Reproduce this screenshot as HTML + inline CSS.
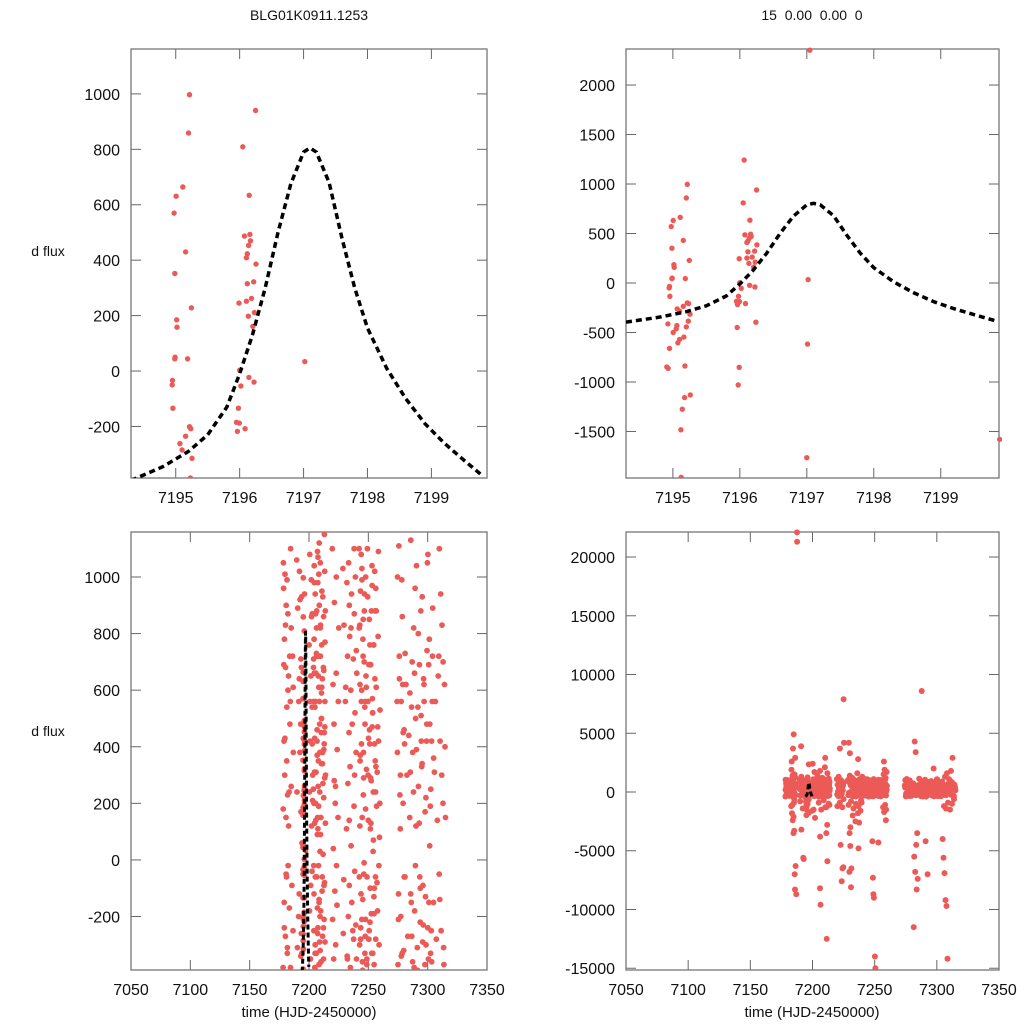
<!DOCTYPE html>
<html><head><meta charset="utf-8"><style>
html,body{margin:0;padding:0;background:#fff}
svg{display:block}
text{font-family:"Liberation Sans",sans-serif;fill:#111}
</style></head><body>
<svg id="fig" width="1024" height="1024" viewBox="0 0 1024 1024" xmlns="http://www.w3.org/2000/svg">
<text x="309" y="20" font-size="14" text-anchor="middle">BLG01K0911.1253</text>
<text x="812" y="20" font-size="14" text-anchor="middle" xml:space="preserve">15  0.00  0.00  0</text>
<text x="48" y="256" font-size="14" text-anchor="middle">d flux</text>
<text x="48" y="736" font-size="14" text-anchor="middle">d flux</text>
<text x="309" y="1017" font-size="15" text-anchor="middle">time (HJD-2450000)</text>
<text x="812" y="1017" font-size="15" text-anchor="middle">time (HJD-2450000)</text>
</svg>
<script>
// ---- data: model curve ----
const curveT = [7194.3,7194.8,7195.2,7195.5,7195.8,7196.0,7196.2,7196.4,7196.6,7196.8,7197.0,7197.1,7197.2,7197.4,7197.6,7197.8,7198.0,7198.3,7198.6,7198.9,7199.2,7199.5,7199.8];
const curveF = [-395,-345,-290,-230,-130,-10,130,300,500,675,790,805,790,680,480,300,155,10,-100,-190,-260,-320,-378];
// ---- data: observations near peak ----
const tPeak = [7195.215,7195.2,7194.975,7195.005,7195.11,7195.155,7194.985,7195.015,7195.02,7195.245,7194.99,7194.985,7195.185,7194.95,7194.945,7194.955,7194.925,7195.065,7195.1,7195.155,7195.215,7195.235,7195.255,7195.23,7195.2,7195.005,7195.05,7195.06,7195.165,7195.075,7195.1,7194.95,7194.91,7194.93,7195.18,7195.26,7195.175,7195.14,7195.12,7195.125,
7196.065,7196.25,7196.05,7196.15,7196.075,7196.16,7196.14,7196.17,7196.105,7196.12,7196.255,7196.12,7196.22,7195.99,7196.105,7196.185,7196.135,7196.23,7196.205,7196.0,7196.145,7196.225,7196.02,7195.98,7195.95,7195.995,7195.965,7196.085,7195.96,7196.24,7195.99,7195.975,
7197.045,7197.02,7197.01,7197.0,7199.88];
const fPeak = [997,859,570,631,664,430,352,185,158,228,50,44,44,-34,-50,-134,-413,-262,-285,-235,-201,-208,-315,-386,-443,-500,-463,-430,-547,-604,-570,-661,-849,-862,-839,-1131,-1158,-1275,-1483,-1963,
1242,940,809,634,487,493,453,470,409,423,386,315,322,245,252,262,198,211,161,3,-23,-40,-54,-134,-185,-188,-218,-208,-450,-396,-852,-1030,
2352,34,-617,-1765,-1580];
// ---- data: full season clusters ----
const tA=[7178.2,7178.4,7178.6,7178.9,7179.1,7179.3,7179.5,7179.8,7180.1,7180.3,7180.6,7180.8,7181.0,7181.3,7181.5,7181.7,7182.0,7182.2,7182.4,7182.7,7182.9,7183.1,7183.3,7183.5,7183.7,7183.9,7184.1,7184.3,7184.5,7184.7,7184.9,7185.1,7185.3,7185.5,7185.7,7185.9,7186.1,7186.4,7186.7,7187.0,7183.2,7183.8,7184.2,7184.8,7185.0,7185.4,7186.0,7186.5,7187.5,7187.6];
const fA=[-380,1050,960,420,-150,780,300,1010,-270,680,150,900,-60,540,990,-330,230,870,-20,650,-1200,1900,2600,-1800,720,1400,-2400,3700,1100,-3500,4900,-900,-3300,1500,-7000,-8300,2900,-6300,610,-8700,240,-1100,560,-2100,820,-600,1250,-250,22100,21300];
const tB=[7189.6,7189.9,7190.2,7190.5,7190.8,7191.1,7191.4,7191.7,7192.0,7192.3,7192.6,7192.9,7193.2,7193.5,7193.8,7194.1,7190.0,7191.0,7192.1,7193.0,7193.3,7200.1,7200.4,7200.7,7201.0,7201.3,7201.6,7201.9,7202.2,7202.5,7202.8,7203.1,7200.2,7200.9,7201.5,7202.0,7202.6,7203.0,7194.0,7193.6];
const fB=[1060,240,-310,890,3900,-3200,560,-120,1020,380,-5600,-5700,710,-260,930,60,-800,1300,-1400,480,170,760,-180,1080,420,-350,650,990,120,-40,870,300,2400,-1500,1700,-2200,540,210,-330,680];
const tC=[7203.6,7203.9,7204.2,7204.5,7204.8,7205.1,7205.4,7205.7,7206.0,7206.3,7206.6,7206.9,7207.2,7207.5,7207.8,7208.1,7208.4,7208.7,7209.0,7209.3,7209.6,7209.9,7210.2,7210.5,7210.8,7211.1,7211.4,7211.7,7212.0,7212.3,7212.6,7212.9,7213.2,7213.5,7213.8,
7203.7,7204.0,7204.3,7204.6,7204.9,7205.2,7205.5,7205.8,7206.1,7206.4,7206.7,7207.0,7207.3,7207.6,7207.9,7208.2,7208.5,7208.8,7209.1,7209.4,7209.7,7210.0,7210.3,7210.6,7210.9,7211.2,7211.5,7211.8,7212.1,7212.4,7212.7,7213.0,7213.3,7213.6,7213.9,
7204.0,7205.0,7206.0,7207.0,7208.0,7209.0,7210.0,7211.0,7212.0,7213.0,7204.5,7205.5,7206.5,7207.5,7208.5,7209.5,7210.5,7211.5,7212.5,7213.5];
const fC=[250,710,-120,980,430,-330,560,140,-8200,820,-60,370,1090,-240,650,190,-370,900,480,30,720,-180,2900,340,610,-3500,-12500,270,-5900,860,-90,450,1020,-290,130,
560,-20,780,310,-380,940,200,660,-3800,-9600,420,90,-260,1070,350,720,-140,560,240,-320,830,150,-1300,500,950,-60,380,-2800,680,220,-210,1150,470,-1100,300,
1400,-900,1800,-1500,1200,-700,2100,-1300,1600,-1000,660,-390,880,110,-150,1050,590,-270,390,770];
const tD=[7219.6,7219.9,7220.2,7220.5,7220.8,7221.1,7221.4,7221.7,7222.0,7222.3,7222.6,7222.9,7223.2,7223.5,7223.8,7224.1,7224.4,7224.7,7225.0,7225.3,7220.0,7221.0,7222.0,7223.0,7224.0,7222.2,7222.5,7224.8,7225.1,7224.9];
const fD=[1100,-210,620,40,-350,480,910,-110,3700,260,-4500,660,-20,-7600,390,-6500,150,560,7900,4200,-1200,1300,-900,1000,-1300,200,-300,-6400,820,-600];
const tE=[7228.6,7228.9,7229.2,7229.5,7229.8,7230.1,7230.4,7230.7,7231.0,7231.3,7231.6,7231.9,7232.2,7232.5,7232.8,7233.1,7233.4,7233.7,7234.0,7234.3,7234.6,7234.9,7235.2,7235.5,7235.8,7236.1,7236.4,7236.7,7237.0,7237.3,7237.6,7237.9,7238.2,7238.5,7238.8,7239.1,7239.4,7239.7,7240.0,7240.3,
7229.0,7230.0,7231.0,7232.0,7233.0,7234.0,7235.0,7236.0,7237.0,7238.0,7239.0,7240.0,7229.7,7230.5,7232.3,7234.5,7236.5,7237.5,7238.6,7239.5];
const fE=[1030,-260,4200,830,-3500,3300,-4600,560,-8100,-6500,110,980,-340,720,270,-200,1050,450,-90,790,330,-380,600,50,940,-150,480,2800,-4800,710,-280,190,870,-40,520,1000,-230,380,-350,660,
-1100,1400,-800,1200,-1400,900,-1000,1600,-1200,1100,-700,1300,-6800,-3000,-2000,-2500,-1800,-2600,-1600,-900];
const tF=[7242.2,7242.6,7243.0,7243.4,7243.8,7244.2,7244.6,7245.0,7245.4,7245.8,7246.2,7246.6,7247.0,7247.4,7247.8,7248.2,7248.6,7249.0,7249.4,7249.8,7250.2,7250.6,7251.0,7251.4,7251.8,7252.2,7252.6,7253.0,7253.4,7253.8,7254.2,7254.6,7255.0,7255.4,7255.8,7256.2,7256.6,7257.0,7257.4,7257.8,7258.2,7258.6,7259.0,7259.4,7259.8,
7242.4,7242.8,7243.2,7243.6,7244.0,7244.4,7244.8,7245.2,7245.6,7246.0,7246.4,7246.8,7247.2,7247.6,7248.0,7248.4,7248.8,7249.2,7249.6,7250.0,7250.4,7250.8,7251.2,7251.6,7252.0,7252.4,7252.8,7253.2,7253.6,7254.0,7254.4,7254.8,7255.2,7255.6,7256.0,7256.4,7256.8,7257.2,7257.6,7258.0,7258.4,7258.8,7259.2,7259.6];
const fF=[1100,-300,620,950,-120,410,1030,-360,780,230,-50,880,540,-270,1000,-4200,-7300,-8700,-9000,300,-14000,-15000,460,-220,690,130,880,-4300,570,-330,240,760,-100,1020,350,-280,610,190,2600,-180,790,420,-2400,80,530,
-60,830,370,-240,1080,600,150,-390,720,290,-10,940,480,-210,650,320,-350,1100,560,140,-280,850,410,-100,690,280,-330,970,520,30,760,-190,410,880,-60,330,-1300,1500,-1700,1900,-1100,1200,-1500,1700];
const tG=[7274.2,7275.0,7275.8,7276.6,7277.4,7278.2,7279.0,7279.8,7280.6,7281.4,7282.2,7283.0,7283.8,7284.6,7285.4,7286.2,7287.0,7287.8,7288.6,7289.4,7290.2,7291.0,7291.8,7292.6,7293.4,7294.2,7295.0,7295.8,7296.6,7297.4,7298.2,7299.0,7299.8,7300.6,7301.4,7302.2,7303.0,7303.8,7304.6,7305.4,7306.2,7307.0,7307.8,7308.6,7309.4,7310.2,7311.0,7311.8,7312.6,7313.4,7314.2,7315.0,
7274.6,7275.4,7276.2,7277.0,7277.8,7278.6,7279.4,7280.2,7281.0,7281.8,7282.6,7283.4,7284.2,7285.0,7285.8,7286.6,7287.4,7288.2,7289.0,7289.8,7290.6,7291.4,7292.2,7293.0,7293.8,7294.6,7295.4,7296.2,7297.0,7297.8,7298.6,7299.4,7300.2,7301.0,7301.8,7302.6,7303.4,7304.2,7305.0,7305.8,7306.6,7307.4,7308.2,7309.0,7309.8,7310.6,7311.4,7312.2,7313.0,7313.8,7314.6];
const fG=[560,-370,1110,230,-200,990,620,-320,410,-11500,4300,3400,-8300,-7400,310,-150,700,8600,-380,960,120,-4200,540,-7000,-60,880,330,-290,640,2000,-130,420,1050,-350,780,190,-250,560,-4000,-5600,-6900,-9200,-9700,-14200,720,-140,940,300,2900,-310,620,150,
1000,-120,640,300,-340,860,450,-60,730,-5500,-6800,-4500,-3500,590,1130,-270,380,820,-180,500,1040,-390,260,690,-100,420,930,-230,560,170,-300,740,1080,-150,480,250,-360,890,360,-1200,1300,-1400,1600,-900,1100,-1500,1800,-1000,700,-600,400];
// ---- extra observations (denser core) ----
const tH=[7203.8,7204.1,7204.4,7204.7,7205.0,7205.3,7205.6,7205.9,7206.2,7206.5,7206.8,7207.1,7207.4,7207.7,7208.0,7208.3,7208.6,7208.9,7209.2,7209.5,7209.8,7210.1,7210.4,7210.7,7211.0,7211.3,7211.6,7211.9,7212.2,7212.5,7212.8,7213.1,7213.4,7213.7,7204.25,7205.25,7206.25,7207.25,7208.25,7209.25,7210.25,7211.25,7212.25,7213.25];
const fH=[680,-250,1040,130,540,-60,870,310,-330,720,460,-170,980,260,-20,610,1120,-290,380,820,90,-360,500,760,-110,340,930,20,-240,670,410,-80,560,880,200,-300,730,150,1010,-200,450,640,-350,290];
const tI=[7242.3,7242.9,7243.5,7244.1,7244.7,7245.3,7245.9,7246.5,7247.1,7247.7,7248.3,7248.9,7249.5,7250.1,7250.7,7251.3,7251.9,7252.5,7253.1,7253.7,7254.3,7254.9,7255.5,7256.1,7256.7,7257.3,7257.9,7258.5,7259.1,7259.7,7243.1,7244.5,7245.7,7247.3,7248.7,7250.5,7251.7,7253.3,7254.7,7256.3,7257.5,7258.9];
const fI=[820,120,-280,560,990,-140,380,700,-330,180,610,-60,930,430,-250,760,290,-190,1040,520,70,-370,640,240,880,-80,470,1090,-300,200,350,-210,850,560,-370,690,110,470,-130,960,310,-20];
const tJ=[7274.5,7275.3,7276.1,7276.9,7277.7,7278.5,7279.3,7280.1,7280.9,7281.7,7282.5,7283.3,7284.1,7284.9,7285.7,7286.5,7287.3,7288.1,7288.9,7289.7,7290.5,7291.3,7292.1,7292.9,7293.7,7294.5,7295.3,7296.1,7296.9,7297.7,7298.5,7299.3,7300.1,7300.9,7301.7,7302.5,7303.3,7304.1,7304.9,7305.7,7306.5,7307.3,7308.1,7308.9,7309.7,7310.5,7311.3,7312.1,7312.9,7313.7];
const fJ=[380,-210,720,110,560,-330,200,460,-60,620,300,-270,440,150,-120,540,-360,240,660,-20,390,-310,800,130,-220,510,340,-90,620,-370,220,480,-240,690,50,-330,420,720,-150,310,560,-280,140,650,-50,420,-250,830,200,-370];
const tK=[7178.3,7178.8,7179.2,7179.7,7180.2,7180.7,7181.2,7181.8,7182.3,7182.8,7183.4,7183.9,7184.4,7185.0,7185.6,7186.2,7186.8,7191.2,7191.8,7192.4,7193.1,7200.3,7200.8,7201.4,7202.1,7202.7,7229.3,7230.9,7232.4,7233.9,7235.4,7236.9,7238.4,7239.9,7221.2,7223.6];
const fK=[180,690,-240,430,830,-50,350,-310,600,120,-170,480,-380,260,-90,720,380,-200,640,920,-340,240,560,-90,860,410,-70,610,-350,140,820,-250,300,740,280,-160];
// ---- tick labels ----
const ticksXTop=[7195,7196,7197,7198,7199];
const ticksXBottom=[7050,7100,7150,7200,7250,7300,7350];
const ticksYTL=[-200,0,200,400,600,800,1000];
const ticksYTR=[-1500,-1000,-500,0,500,1000,1500,2000];
const ticksYBL=[-200,0,200,400,600,800,1000];
const ticksYBR=[-15000,-10000,-5000,0,5000,10000,15000,20000];

const NS="http://www.w3.org/2000/svg";
const svg=document.getElementById('fig');
function mk(tag,attrs,parent){const e=document.createElementNS(NS,tag);for(const k in attrs)e.setAttribute(k,attrs[k]);(parent||svg).appendChild(e);return e;}

function cat(){const t=[],f=[];for(let i=0;i<arguments.length;i+=2){const a=arguments[i],b=arguments[i+1];const n=Math.min(a.length,b.length);for(let j=0;j<n;j++){t.push(a[j]);f.push(b[j]);}}return [t,f];}
const [allT,allF]=cat(tPeak,fPeak,tA,fA,tB,fB,tC,fC,tD,fD,tE,fE,tF,fF,tG,fG,tH,fH,tI,fI,tJ,fJ,tK,fK);

const panels=[
 {id:'top-left',x0:131,x1:487,y0:49,y1:478,xmin:7194.3,xmax:7199.87,ymin:-386,ymax:1162,xt:ticksXTop,yt:ticksYTL,r:2.7},
 {id:'top-right',x0:626,x1:999,y0:49,y1:478,xmin:7194.3,xmax:7199.87,ymin:-1970,ymax:2364,xt:ticksXTop,yt:ticksYTR,r:2.7},
 {id:'bottom-left',x0:131,x1:487,y0:532,y1:970,xmin:7050,xmax:7350,ymin:-389,ymax:1159,xt:ticksXBottom,yt:ticksYBL,r:2.9},
 {id:'bottom-right',x0:626,x1:999,y0:532,y1:970,xmin:7050,xmax:7350,ymin:-15150,ymax:22130,xt:ticksXBottom,yt:ticksYBR,r:3}
];

panels.forEach((p,pi)=>{
  const sx=v=>p.x0+(v-p.xmin)/(p.xmax-p.xmin)*(p.x1-p.x0);
  const sy=v=>p.y1-(v-p.ymin)/(p.ymax-p.ymin)*(p.y1-p.y0);
  const g=mk('g',{});
  
  
  const cp=mk('clipPath',{id:'clip'+pi},g);
  mk('rect',{x:p.x0,y:p.y0-3,width:p.x1-p.x0+3,height:p.y1-p.y0+3},cp);
  p.xt.forEach(v=>{
    const x=sx(v);
    const t1=mk('line',{x1:x,x2:x,y1:p.y1,y2:p.y1-10,stroke:'#666','stroke-width':1},g);
    
    
    mk('line',{x1:x,x2:x,y1:p.y0,y2:p.y0+10,stroke:'#666','stroke-width':1},g);
    const tx=mk('text',{x:x,y:p.y1+25,'font-size':16,'text-anchor':'middle'},g);
    tx.textContent=v;
    
    
  });
  p.yt.forEach(v=>{
    const y=sy(v);
    const t1=mk('line',{x1:p.x0,x2:p.x0+10,y1:y,y2:y,stroke:'#666','stroke-width':1},g);
    
    
    mk('line',{x1:p.x1,x2:p.x1-10,y1:y,y2:y,stroke:'#666','stroke-width':1},g);
    const tx=mk('text',{x:p.x0-11,y:y+6,'font-size':16,'text-anchor':'end'},g);
    tx.textContent=v;
    
    
  });
  const box=mk('rect',{x:p.x0,y:p.y0,width:p.x1-p.x0,height:p.y1-p.y0,fill:'none',stroke:'#777','stroke-width':1.3},g);
  
  
  const pg=mk('g',{'clip-path':'url(#clip'+pi+')',fill:'#ec5a57'},g);
  
  
  for(let i=0;i<allT.length;i++){
    const t=allT[i],f=allF[i];
    if(t<p.xmin-0.05||t>p.xmax+0.05||f<p.ymin-200||f>p.ymax+200)continue;
    const c=mk('circle',{cx:sx(t).toFixed(1),cy:sy(f).toFixed(1),r:p.r},pg);
    
    
  }
  let d='';
  for(let i=0;i<Math.min(curveT.length,curveF.length);i++){d+=(i?'L':'M')+sx(curveT[i]).toFixed(2)+' '+sy(curveF[i]).toFixed(2);}
  const cl=mk('path',{d:d,fill:'none',stroke:'#000','stroke-width':pi<2?3.5:3,'stroke-dasharray':pi<2?'6,4':'5,3','stroke-linejoin':'round','clip-path':'url(#clip'+pi+')'},g);
  
  
});
</script>
</body></html>
